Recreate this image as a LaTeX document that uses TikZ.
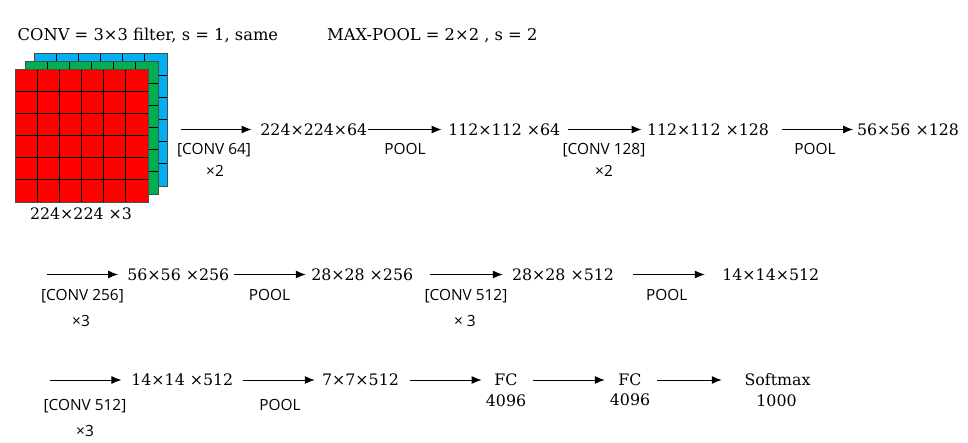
\documentclass[tikz,border=0pt]{standalone}
\usepackage{fontspec}
\setmainfont{DejaVu Serif}
\setsansfont{Open Sans}
\usetikzlibrary{arrows.meta}
\definecolor{cred}{HTML}{FF0000}
\definecolor{cgreen}{HTML}{00B050}
\definecolor{cblue}{HTML}{00B0F0}
\tikzset{
  dim/.style={inner sep=0pt, font=\fontsize{15.8}{18}\selectfont},
  lbl/.style={inner sep=0pt, anchor=base, font=\sffamily\fontsize{15.4}{17}\selectfont},
  ttl/.style={inner sep=0pt, anchor=base west, font=\fontsize{16.3}{18}\selectfont},
  arr/.style={line width=1pt, -{Latex[length=10pt,width=8pt]}},
  layer/.style={line width=0.8pt, draw=black!70},
  gridl/.style={line width=0.8pt, draw=black}
}
\newcommand{\ctext}[1]{\makebox[0pt]{#1}}
\newcommand{\featlayer}[3]{%
  \fill[#3] (#1,#2) rectangle ++(133,133);
  \foreach \k in {1,...,5} {
    \draw[gridl] ({#1+\k*133/6},#2) -- ++(0,133);
    \draw[gridl] (#1,{#2+\k*133/6}) -- ++(133,0);
  }
  \draw[layer] (#1,#2) rectangle ++(133,133);
}
\begin{document}
\begin{tikzpicture}[x=1pt,y=-1pt]
\useasboundingbox (0,0) rectangle (968,443);
% titles
\node[ttl] (t1) at (17.5,40.5) {CONV = 3×3 filter, s = 1, same};
\node[ttl] (t2) at (327,40.5) {MAX-POOL = 2×2 , s = 2};
% input stack
\featlayer{34}{53}{cblue}
\featlayer{25}{61}{cgreen}
\featlayer{15}{69}{cred}
\node[inner sep=0pt, minimum width=152pt, minimum height=149pt] (img) at (90.5,127.5) {};
\node[dim] (inlbl) at (81,214) {224×224 ×3};
% row 1
\node[dim, minimum width=106.3pt] (d1) at (313.85,129.5) {\ctext{224×224×64}};
\node[dim, minimum width=110pt] (d2) at (504.3,129.5) {\ctext{112×112 ×64}};
\node[dim, minimum width=120pt] (d3) at (708,129.5) {\ctext{112×112 ×128}};
\node[dim, minimum width=100pt] (d4) at (908,129.5) {\ctext{56×56 ×128}};
\draw[arr, shorten <=14pt, shorten >=9pt] (img.east |- d1.west) -- (d1.west);
\draw[arr, shorten <=1pt, shorten >=7.6pt] (d1) -- (d2);
\draw[arr, shorten <=8.7pt, shorten >=6.3pt] (d2) -- (d3);
\draw[arr, shorten <=13.7pt, shorten >=4.7pt] (d3) -- (d4);
\node[lbl] (l1a) at (214,155) {[CONV 64]};
\node[lbl] (l1b) at (215,177) {×2};
\node[lbl] (l2) at (405,155) {POOL};
\node[lbl] (l3a) at (604,155) {[CONV 128]};
\node[lbl] (l3b) at (604,177) {×2};
\node[lbl] (l4) at (815,155) {POOL};
% row 2
\coordinate (s2) at (46.7,274.5);
\node[dim, minimum width=100pt] (d5) at (178.3,274.5) {\ctext{56×56 ×256}};
\node[dim, minimum width=99pt] (d6) at (362.2,274.5) {\ctext{28×28 ×256}};
\node[dim, minimum width=100pt] (d7) at (563,274.5) {\ctext{28×28 ×512}};
\node[dim, minimum width=91.7pt] (d8) at (770.8,274.5) {\ctext{14×14×512}};
\draw[arr, shorten >=10pt] (s2) -- (d5);
\draw[arr, shorten <=5.7pt, shorten >=6.7pt] (d5) -- (d6);
\draw[arr, shorten <=18.3pt, shorten >=10pt] (d6) -- (d7);
\draw[arr, shorten <=20pt, shorten >=20pt] (d7) -- (d8);
\node[lbl] (l5a) at (82.5,300.7) {[CONV 256]};
\node[lbl] (l5b) at (81,326) {×3};
\node[lbl] (l6) at (269.5,300.7) {POOL};
\node[lbl] (l7a) at (466,300.7) {[CONV 512]};
\node[lbl] (l7b) at (465,326) {× 3};
\node[lbl] (l8) at (666.7,300.7) {POOL};
% row 3
\coordinate (s3) at (50,380);
\node[dim, minimum width=98.7pt] (d10) at (182.3,380) {\ctext{14×14 ×512}};
\node[dim, minimum width=75pt] (d11) at (360.5,380) {\ctext{7×7×512}};
\node[dim, minimum width=21.7pt] (f1) at (506,380) {\ctext{FC}};
\node[dim, minimum width=24pt] (f2) at (630,380) {\ctext{FC}};
\node[dim, minimum width=69pt] (sm) at (777.5,380) {\ctext{Softmax}};
\node[dim, anchor=base] (f1n) at (506,406.7) {4096};
\node[dim, anchor=base] (f2n) at (630,405) {4096};
\node[dim, anchor=base] (smn) at (776.5,406) {1000};
\draw[arr, shorten >=11.3pt] (s3) -- (d10);
\draw[arr, shorten <=11.3pt, shorten >=8pt] (d10) -- (d11);
\draw[arr, shorten <=12pt, shorten >=13.3pt] (d11) -- (f1);
\draw[arr, shorten <=16.3pt, shorten >=13pt] (f1) -- (f2);
\draw[arr, shorten <=15pt, shorten >=21pt] (f2) -- (sm);
\node[lbl] (l10a) at (85,410.7) {[CONV 512]};
\node[lbl] (l10b) at (85,436) {×3};
\node[lbl] (l11) at (280,410.7) {POOL};
\end{tikzpicture}
\end{document}
